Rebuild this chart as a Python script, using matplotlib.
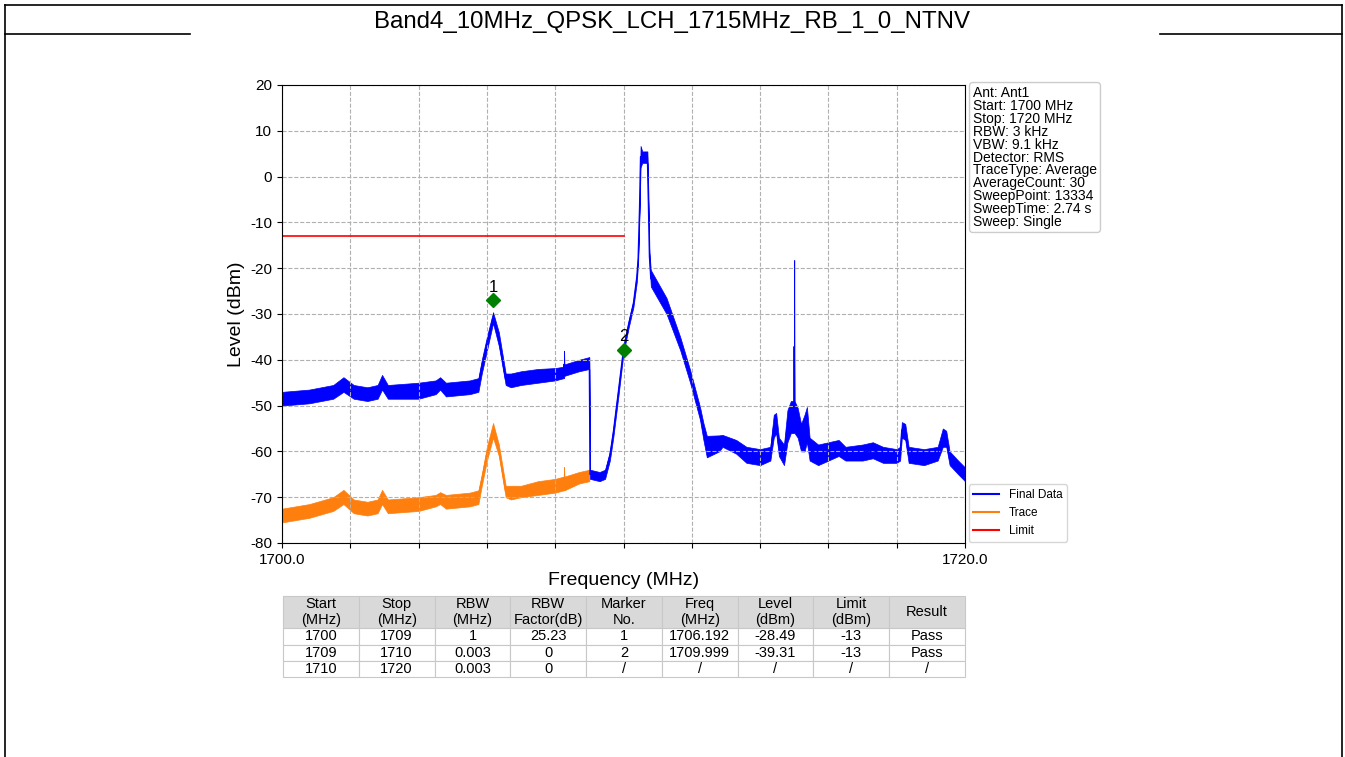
import matplotlib
matplotlib.use("Agg")
import matplotlib.pyplot as plt
from matplotlib.lines import Line2D
import numpy as np

plt.rcParams["font.family"] = ["Liberation Sans", "DejaVu Sans"]
plt.rcParams["axes.unicode_minus"] = False

TITLE = "Band4_10MHz_QPSK_LCH_1715MHz_RB_1_0_NTNV"

# Final Data: frequency (MHz) with lower / upper edge of the noisy trace (dBm)
final_freq = [1700.0, 1700.8, 1701.5, 1701.8, 1702.1, 1702.5, 1702.8, 1702.93, 1703.1,
              1704.0, 1704.5, 1704.63, 1704.8, 1705.5, 1705.75, 1705.85, 1706.0, 1706.18,
              1706.35, 1706.55, 1706.7, 1707.0, 1707.5, 1708.0, 1708.25, 1708.26, 1708.27,
              1708.7, 1709.0, 1709.02, 1709.3, 1709.46, 1709.6, 1709.7, 1709.85, 1710.0,
              1710.15, 1710.29, 1710.39, 1710.43, 1710.47, 1710.5, 1710.55, 1710.7, 1710.73,
              1710.76, 1710.8, 1711.26, 1711.66, 1711.95, 1712.24, 1712.34, 1712.44, 1712.8,
              1712.9, 1713.3, 1713.6, 1714.0, 1714.3, 1714.4, 1714.47, 1714.55, 1714.7,
              1714.8, 1714.9, 1714.99, 1715.0, 1715.01, 1715.1, 1715.2, 1715.3, 1715.37,
              1715.45, 1715.7, 1716.0, 1716.3, 1716.5, 1717.0, 1717.3, 1717.6, 1718.0,
              1718.1, 1718.15, 1718.25, 1718.35, 1718.8, 1719.2, 1719.35, 1719.45, 1719.55,
              1719.8, 1720.0]
final_lo = [-50, -49.5, -48.5, -47, -48.5, -49, -48.5, -46.5, -48.5,
            -48.5, -47.5, -46.5, -48, -47.5, -47, -43, -38, -32,
            -37, -45.5, -46, -45.5, -45, -44.5, -44, -44, -43.5,
            -42.5, -42, -66, -66.5, -66, -62, -57, -48, -38.5,
            -33, -28.5, -23, -18.5, -8, 2, 3, 3, -8,
            -18.5, -24, -30, -37.9, -45, -53.1, -57.5, -61.3, -60,
            -59, -60.5, -62.5, -63, -62, -57, -56, -61, -63,
            -58, -56, -56, -56, -56, -57, -60, -60, -58,
            -62, -63, -62, -61, -62, -62, -61.5, -62.5, -62.5,
            -62, -57, -57.5, -62.5, -63, -62, -59, -59, -63,
            -65, -66.5]
final_hi = [-47, -46.5, -45.5, -43.8, -45.5, -46, -45.5, -43.3, -45.5,
            -45, -44.5, -43.8, -45, -44.5, -44, -40, -35, -29.6,
            -34, -43, -43, -42.5, -42, -41.8, -41.5, -38, -41,
            -40, -39.4, -64, -64.5, -64, -60, -55, -46, -37,
            -31.5, -27, -21, -17, -6, 6.7, 5.5, 5.5, -4,
            -16.5, -20.4, -26.5, -35, -42.2, -50.3, -53.8, -56.6, -56.5,
            -56.4, -57.5, -59, -59.5, -59, -52, -51.6, -57, -58.5,
            -51, -49, -49, -18.2, -49, -50.5, -54, -52, -50.3,
            -57, -58.5, -58, -57.5, -59, -58.5, -58, -59, -59.5,
            -59, -53.6, -54, -59, -59.5, -59, -55, -55.5, -60,
            -62, -63.5]

# Trace (raw measurement, first sub-range only)
trace_freq = [1700.0, 1700.8, 1701.5, 1701.8, 1702.1, 1702.5, 1702.8, 1702.93, 1703.1,
              1704.0, 1704.5, 1704.63, 1704.8, 1705.5, 1705.75, 1705.85, 1706.0, 1706.18,
              1706.35, 1706.55, 1706.7, 1707.0, 1707.5, 1708.0, 1708.25, 1708.26, 1708.27,
              1708.7, 1709.0]
trace_lo = [-75.5, -74.5, -73, -71.5, -73.5, -74, -73.5, -71.5, -73.5,
            -73, -72, -71.5, -72.5, -72, -71.5, -67.5, -62, -57,
            -61, -70, -70.5, -70, -69.5, -69, -68.5, -68, -68.5,
            -67, -66.5]
trace_hi = [-72.5, -71.5, -70, -68.4, -70.5, -71, -70.5, -68.4, -70.5,
            -70, -69.5, -68.9, -69.5, -69, -68.5, -65, -59, -53.8,
            -58.5, -67.5, -67.5, -67.5, -66.5, -66, -65.5, -63.4, -65.5,
            -64.5, -64]

limit_freq = [1700.0, 1710.0]
limit_level = [-13, -13]

marker_ids = ["1", "2"]
marker_freq = [1706.192, 1710.0]
marker_level = [-27.0, -37.8]

info_lines = ["Ant: Ant1", "Start: 1700 MHz", "Stop: 1720 MHz", "RBW: 3 kHz",
              "VBW: 9.1 kHz", "Detector: RMS", "TraceType: Average",
              "AverageCount: 30", "SweepPoint: 13334", "SweepTime: 2.74 s",
              "Sweep: Single"]

table_header = ["Start\n(MHz)", "Stop\n(MHz)", "RBW\n(MHz)", "RBW\nFactor(dB)",
                "Marker\nNo.", "Freq\n(MHz)", "Level\n(dBm)", "Limit\n(dBm)", "Result"]
table_rows = [
    ["1700", "1709", "1", "25.23", "1", "1706.192", "-28.49", "-13", "Pass"],
    ["1709", "1710", "0.003", "0", "2", "1709.999", "-39.31", "-13", "Pass"],
    ["1710", "1720", "0.003", "0", "/", "/", "/", "/", "/"],
]

BLUE = "#0000ff"
ORANGE = "#ff7f0e"
RED = "#ff0000"

fig = plt.figure(figsize=(13.45, 7.57), dpi=100)

# page frame
W, H = 1345, 757
def px(x, y):
    return x / W, 1 - y / H
for (x0, y0, x1, y1) in [(5, 5, 1342, 5), (5, 5, 5, 757), (1342, 5, 1342, 757),
                         (5, 34, 190, 34), (1160, 34, 1342, 34)]:
    a, b = px(x0, y0)
    c, d = px(x1, y1)
    fig.add_artist(Line2D([a, c], [b, d], color="black", lw=1.2))

fig.text(0.5, 1 - 22 / H, TITLE, ha="center", va="center", fontsize=17.3)

ax = fig.add_axes([282 / W, 1 - 543 / H, (965 - 282) / W, (543 - 85) / H])

ax.fill_between(trace_freq, trace_lo, trace_hi, color=ORANGE, lw=0.5)
ax.plot(trace_freq, (np.array(trace_lo) + np.array(trace_hi)) / 2, color=ORANGE,
        lw=1, label="Trace")
ax.fill_between(final_freq, final_lo, final_hi, color=BLUE, lw=0.5)
ax.plot(final_freq, (np.array(final_lo) + np.array(final_hi)) / 2, color=BLUE,
        lw=1, label="Final Data")
ax.plot(limit_freq, limit_level, color=RED, lw=1.2, label="Limit")

ax.plot(marker_freq, marker_level, "D", color="green", ms=7, ls="none", zorder=5)
for mid, mf, ml in zip(marker_ids, marker_freq, marker_level):
    ax.text(mf, ml + 1.2, mid, ha="center", va="bottom", fontsize=12)

ax.set_xlim(1700, 1720)
ax.set_ylim(-80, 20)
ax.set_xticks(np.arange(1700, 1721, 2))
ax.set_xticklabels(["1700.0"] + [""] * 9 + ["1720.0"])
ax.set_yticks(np.arange(-80, 21, 10))
ax.tick_params(labelsize=11)
ax.grid(True, ls="--", color="#b0b0b0", lw=0.8)
ax.set_xlabel("Frequency (MHz)", fontsize=14, labelpad=4)
ax.set_ylabel("Level (dBm)", fontsize=14)

handles, labels = ax.get_legend_handles_labels()
order = [labels.index(n) for n in ["Final Data", "Trace", "Limit"]]
leg = ax.legend([handles[i] for i in order], [labels[i] for i in order],
                loc="lower left", bbox_to_anchor=(1.0, -0.005), fontsize=8.5,
                frameon=True, borderaxespad=0.3, handlelength=2.2)
for ln in leg.get_lines():
    ln.set_linewidth(1.5)

fig.text(973 / W, 1 - 86 / H, "\n".join(info_lines), ha="left", va="top",
         fontsize=10, linespacing=0.9,
         bbox=dict(boxstyle="round,pad=0.25", fc="white", ec="#cccccc"))

tax = fig.add_axes([283 / W, 1 - 677 / H, (965 - 283) / W, (677 - 596) / H])
tax.axis("off")
tbl = tax.table(cellText=table_rows, colLabels=table_header, cellLoc="center",
                bbox=[0, 0, 1, 1])
tbl.auto_set_font_size(False)
tbl.set_fontsize(10.5)
for (r, c), cell in tbl.get_celld().items():
    cell.set_edgecolor("#c8c8c8")
    cell.set_linewidth(0.8)
    if r == 0:
        cell.set_facecolor("#d9d9d9")
        cell.set_height(2.0)
    else:
        cell.set_height(1.0)

fig.savefig("out.png", dpi=100)
